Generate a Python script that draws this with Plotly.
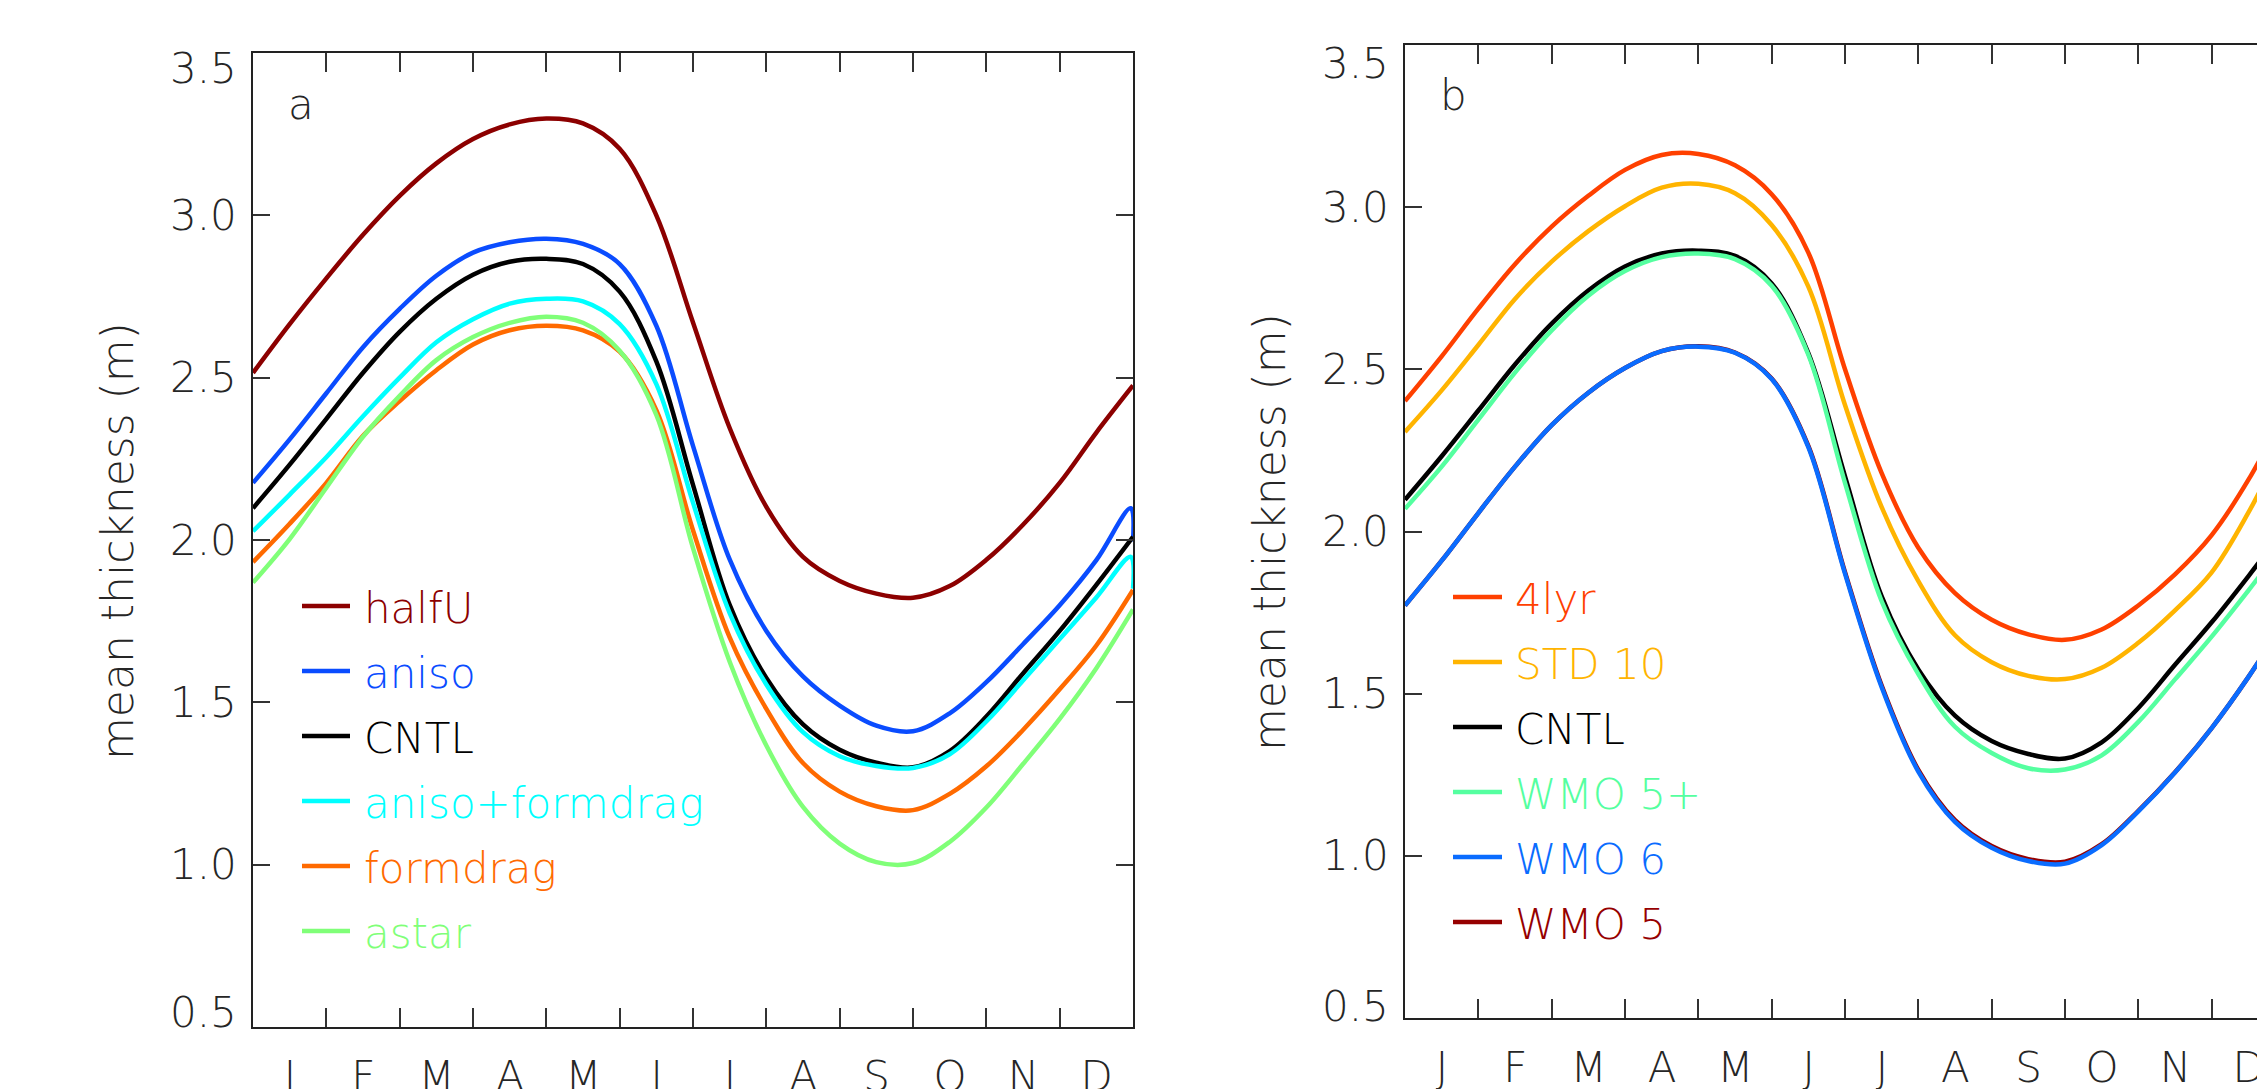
import plotly.graph_objects as go

W, H = 2265, 1089

# ---------------- data ----------------
MONTHS = [i * 0.5 for i in range(25)]                 # 0 .. 12 in half-month steps
MONTHS_WRAP = [i * 0.5 for i in range(24)] + [11.97, 12.0]
MONTH_LABELS = ["J", "F", "M", "A", "M", "J", "J", "A", "S", "O", "N", "D"]
MONTH_TICKS = list(range(12))
YTICKS = [0.5, 1.0, 1.5, 2.0, 2.5, 3.0, 3.5]
YTICK_LABELS = ["0.5", "1.0", "1.5", "2.0", "2.5", "3.0", "3.5"]

# panel a
HALFU = [2.515, 2.665, 2.806, 2.94, 3.06, 3.16, 3.235, 3.28, 3.298, 3.283, 3.205, 3.0,
         2.67, 2.345, 2.102, 1.948, 1.874, 1.835, 1.822, 1.858, 1.939, 2.047, 2.176, 2.331, 2.476]
ANISO = [2.176, 2.31, 2.452, 2.594, 2.712, 2.814, 2.885, 2.917, 2.928, 2.912, 2.85, 2.66,
         2.29, 1.94, 1.72, 1.58, 1.49, 1.428, 1.411, 1.466, 1.562, 1.679, 1.799, 1.938, 2.098, 1.995]
CNTL = [2.098, 2.232, 2.373, 2.515, 2.641, 2.743, 2.817, 2.857, 2.866, 2.85, 2.765, 2.55,
        2.17, 1.80, 1.575, 1.432, 1.354, 1.314, 1.30, 1.35, 1.456, 1.589, 1.72, 1.862, 2.01]
ANISO_FORMDRAG = [2.027, 2.14, 2.255, 2.381, 2.50, 2.609, 2.68, 2.728, 2.743, 2.735, 2.665, 2.48,
                  2.115, 1.775, 1.555, 1.408, 1.334, 1.304, 1.298, 1.34, 1.441, 1.567, 1.695, 1.823,
                  1.948, 1.85]
FORMDRAG = [1.932, 2.05, 2.176, 2.321, 2.428, 2.523, 2.602, 2.646, 2.66, 2.646, 2.58, 2.40,
            2.03, 1.70, 1.48, 1.313, 1.225, 1.18, 1.168, 1.218, 1.303, 1.415, 1.54, 1.675, 1.846]
ASTAR = [1.869, 2.003, 2.161, 2.318, 2.444, 2.554, 2.625, 2.669, 2.688, 2.669, 2.583, 2.385,
         1.975, 1.625, 1.367, 1.178, 1.065, 1.008, 1.005, 1.07, 1.176, 1.31, 1.449, 1.605, 1.786]

# panel b
LYR4 = [2.402, 2.54, 2.687, 2.824, 2.94, 3.035, 3.115, 3.161, 3.164, 3.129, 3.04, 2.86,
        2.50, 2.18, 1.95, 1.81, 1.728, 1.683, 1.666, 1.698, 1.772, 1.868, 1.989, 2.159, 2.37]
STD10 = [2.307, 2.435, 2.575, 2.717, 2.832, 2.926, 3.003, 3.06, 3.072, 3.043, 2.945, 2.755,
         2.39, 2.075, 1.847, 1.68, 1.597, 1.555, 1.545, 1.58, 1.657, 1.757, 1.874, 2.058, 2.28]
CNTL_B = CNTL
WMO5P = [2.07, 2.20, 2.345, 2.49, 2.62, 2.727, 2.803, 2.846, 2.857, 2.84, 2.758, 2.545,
         2.15, 1.785, 1.56, 1.398, 1.317, 1.27, 1.266, 1.31, 1.413, 1.544, 1.676, 1.818, 1.965]
WMO6 = [1.772, 1.91, 2.057, 2.20, 2.328, 2.428, 2.504, 2.556, 2.57, 2.551, 2.47, 2.26,
        1.87, 1.52, 1.26, 1.105, 1.025, 0.984, 0.976, 1.033, 1.137, 1.257, 1.394, 1.551, 1.725]
WMO5 = [1.772, 1.91, 2.057, 2.20, 2.328, 2.428, 2.504, 2.556, 2.571, 2.552, 2.472, 2.264,
        1.875, 1.525, 1.265, 1.11, 1.03, 0.99, 0.982, 1.036, 1.139, 1.258, 1.394, 1.551, 1.725]

SERIES_A = [("halfU", MONTHS, HALFU, "#8c0000"),
            ("aniso", MONTHS_WRAP, ANISO, "#0a4cff"),
            ("CNTL", MONTHS, CNTL, "#000000"),
            ("aniso+formdrag", MONTHS_WRAP, ANISO_FORMDRAG, "#00ffff"),
            ("formdrag", MONTHS, FORMDRAG, "#ff6a00"),
            ("astar", MONTHS, ASTAR, "#80ff78")]
SERIES_B = [("4lyr", MONTHS, LYR4, "#ff4000"),
            ("STD 10", MONTHS, STD10, "#ffb400"),
            ("CNTL", MONTHS, CNTL_B, "#000000"),
            ("WMO 5+", MONTHS, WMO5P, "#55ffa0"),
            ("WMO 6", MONTHS, WMO6, "#0a6cff"),
            ("WMO 5", MONTHS, WMO5, "#960000")]
# drawing order in panel b: WMO 5 lies under WMO 6
DRAW_ORDER_B = [0, 1, 2, 3, 5, 4]

# ---------------- layout helpers ----------------
OFF = 8   # the page body has an 8 px margin; positions below are window pixels

def px(x):
    return (x - OFF) / W

def py(y):
    return 1 - (y - OFF) / H

FONT = "DejaVu Sans"
TXT = "#262626"
FS = 42
LW = 4.5

fig = go.Figure()

for name, xs, ys, col in SERIES_A:
    fig.add_trace(go.Scatter(x=xs, y=ys, mode="lines", name=name, showlegend=False,
                             line=dict(color=col, width=LW, shape="spline", smoothing=1.0),
                             xaxis="x", yaxis="y"))
for i in DRAW_ORDER_B:
    name, xs, ys, col = SERIES_B[i]
    fig.add_trace(go.Scatter(x=xs, y=ys, mode="lines", name=name, showlegend=False,
                             line=dict(color=col, width=LW, shape="spline", smoothing=1.0),
                             xaxis="x2", yaxis="y2"))

month_px = (1133 - 253) / 12.0
xrange_b = (W + OFF - 1405) / month_px

common_x = dict(tickmode="array", tickvals=MONTH_TICKS, ticktext=MONTH_LABELS,
                ticks="inside", ticklen=19, tickwidth=1.6, tickcolor="#333",
                showline=True, linecolor="#222", linewidth=2, mirror="ticks",
                showgrid=False, zeroline=False, automargin=False,
                ticklabelshift=int(round(month_px / 2)), ticklabelstandoff=12,
                tickfont=dict(family=FONT, size=FS, color=TXT, weight=200))
common_y = dict(range=[0.5, 3.5], tickmode="array", tickvals=YTICKS, showticklabels=False,
                ticks="inside", ticklen=17, tickwidth=1.6, tickcolor="#333",
                showline=True, linecolor="#222", linewidth=2,
                showgrid=False, zeroline=False, automargin=False)

fig.update_layout(
    width=W, height=H,
    margin=dict(l=0, r=0, t=0, b=0),
    paper_bgcolor="white", plot_bgcolor="white",
    showlegend=False,
    xaxis=dict(domain=[px(253), px(1133)], range=[0, 12], anchor="y", **common_x),
    yaxis=dict(domain=[py(1027), py(53)], anchor="x", mirror="ticks", **common_y),
    xaxis2=dict(domain=[px(1405), 1.0], range=[0, xrange_b], anchor="y2", **common_x),
    yaxis2=dict(domain=[py(1018), py(45)], anchor="x2", mirror=False, **common_y),
)

annotations = []
shapes = []
tfont = dict(family=FONT, size=FS, color=TXT, weight=200)

# y tick labels (end labels nudged inside the frame, as in the original)
for xr, yr, top_shift, bot_shift in [("x domain", "y", -16, 15), ("x2 domain", "y2", -18, 12)]:
    for v, lab in zip(YTICKS, YTICK_LABELS):
        ys = top_shift if v == YTICKS[-1] else (bot_shift if v == YTICKS[0] else 0)
        annotations.append(dict(x=0, y=v, xref=xr, yref=yr, text=lab, showarrow=False,
                                xanchor="right", yanchor="middle", xshift=-14, yshift=ys,
                                font=tfont))

# axis titles
for cx, cy in [(117, 541), (1269, 532)]:
    annotations.append(dict(x=px(cx), y=py(cy), xref="paper", yref="paper",
                            text="mean thickness (m)", textangle=-90, showarrow=False,
                            xanchor="center", yanchor="middle",
                            font=dict(family=FONT, size=44, color=TXT, weight=200)))

# panel letters
for letter, cx, cy in [("a", 301, 104), ("b", 1453, 95)]:
    annotations.append(dict(x=px(cx), y=py(cy), xref="paper", yref="paper", text=letter,
                            showarrow=False, xanchor="center", yanchor="middle", font=tfont))

# legends
for series, x0, x1, xt, y0 in [(SERIES_A, 302, 350, 362, 606), (SERIES_B, 1453, 1502, 1513, 597)]:
    for k, (name, _, _, col) in enumerate(series):
        yy = y0 + 65 * k
        shapes.append(dict(type="line", xref="paper", yref="paper",
                           x0=px(x0), x1=px(x1), y0=py(yy), y1=py(yy),
                           line=dict(color=col, width=LW)))
        annotations.append(dict(x=px(xt), y=py(yy + 2), xref="paper", yref="paper", text=name,
                                showarrow=False, xanchor="left", yanchor="middle",
                                font=dict(family=FONT, size=FS, color=col, weight=200)))

fig.update_layout(annotations=annotations, shapes=shapes)

fig.write_html("out.html")
